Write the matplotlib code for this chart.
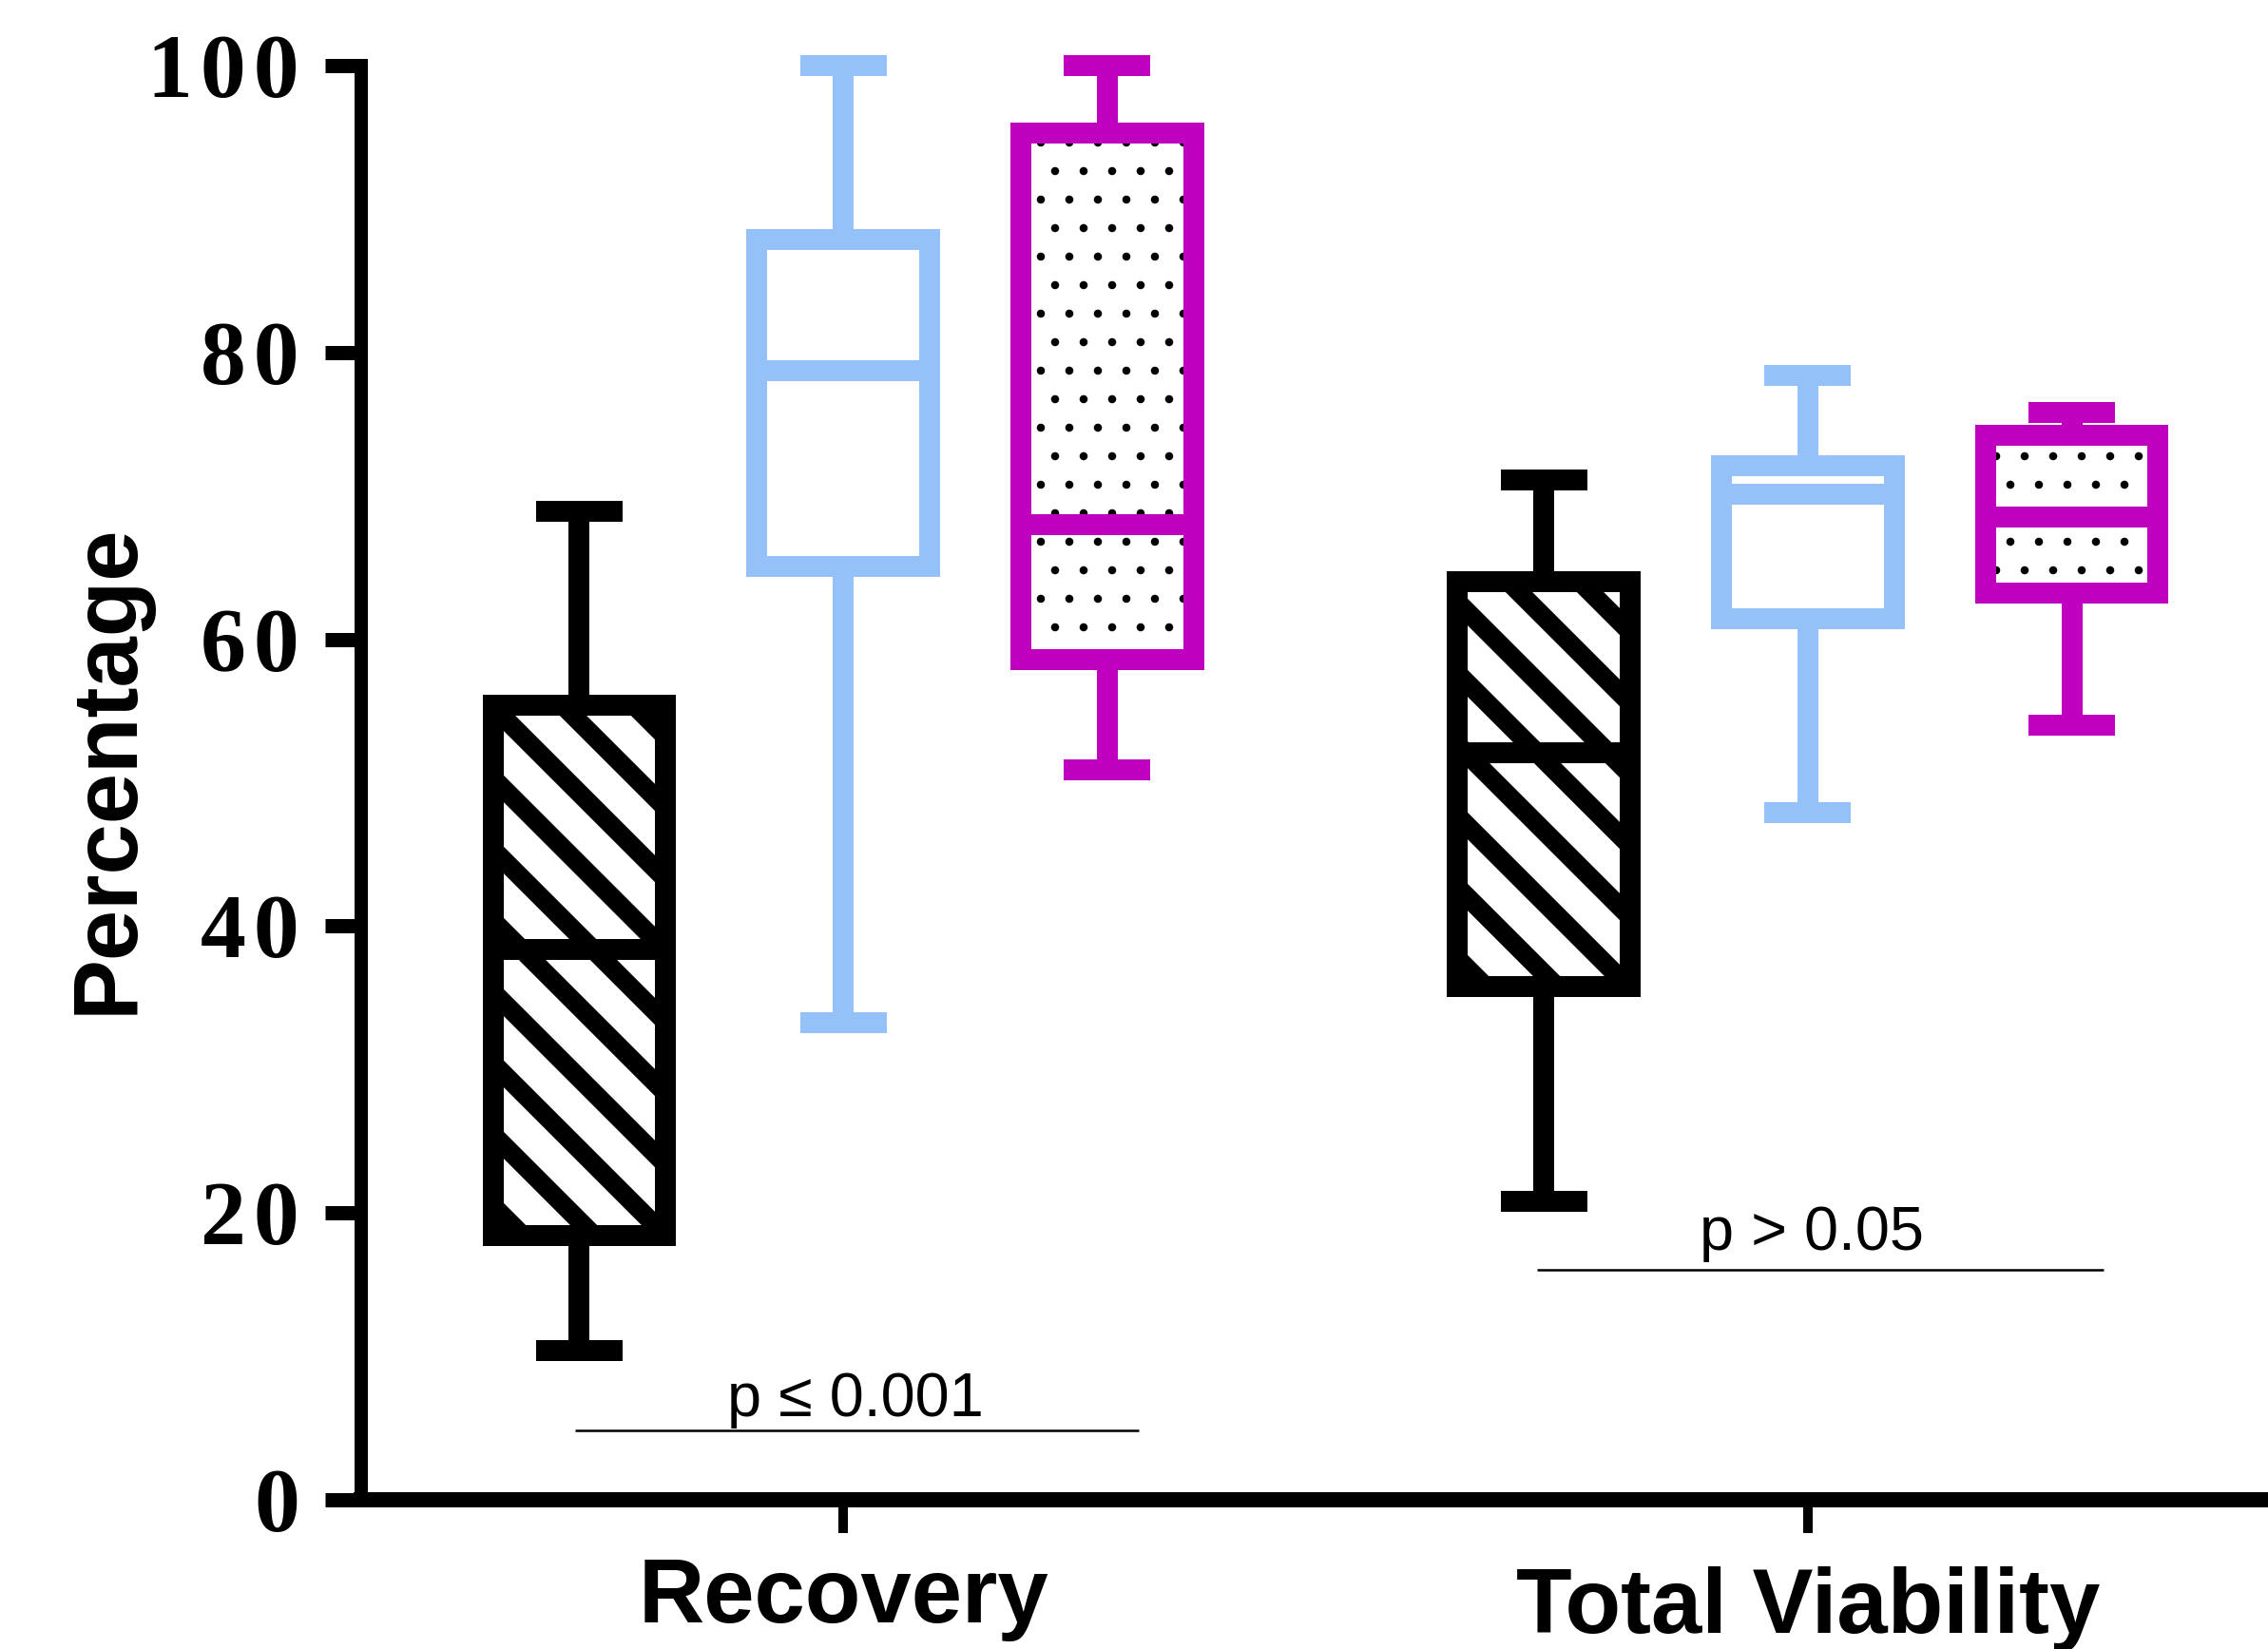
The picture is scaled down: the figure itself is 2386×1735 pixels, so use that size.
import matplotlib
matplotlib.use('Agg')
import matplotlib.pyplot as plt
from matplotlib.transforms import ScaledTranslation

# categories and series
groups = ['Recovery', 'Total Viability']
series_colors = ['#000000', '#94C1F7', '#BF00BF']
series_hatches = ['\\\\\\\\', '', '.....']

# five-number summaries: whislo, q1, med, q3, whishi
black_stats = [(10.4, 18.4, 38.4, 55.4, 68.9), (20.8, 35.8, 52.1, 64.0, 71.1)]
blue_stats = [(33.3, 65.1, 78.7, 87.9, 100.0), (47.9, 61.4, 70.1, 72.1, 78.4)]
magenta_stats = [(50.9, 58.6, 68.0, 95.3, 100.0), (54.0, 63.2, 68.5, 74.2, 75.8)]

yticks = [0, 20, 40, 60, 80, 100]

# p-value annotations
p_labels = ['p \u2264 0.001', 'p > 0.05']
p_text_x = [1.013, 2.004]
p_text_y = [5.85, 17.45]
p_line_x = [(0.7226, 1.306), (1.7196, 2.307)]
p_line_y = [4.85, 16.06]

DPI = 900
def px(p):
    return p * 72.0 / DPI

fig = plt.figure(figsize=(2386 / DPI, 1735 / DPI), dpi=DPI)
ax = fig.add_axes([0.1593, 0.0905, 1 - 0.1593, 0.8697])

lw = px(22)
offsets = [-0.2736, 0.0, 0.2736]
all_stats = [black_stats, blue_stats, magenta_stats]

for i, stats in enumerate(all_stats):
    c = series_colors[i]
    h = series_hatches[i]
    if h.startswith('\\'):
        plt.rcParams['hatch.linewidth'] = px(20)
    else:
        plt.rcParams['hatch.linewidth'] = px(2.5)
    st = []
    for s in stats:
        st.append(dict(whislo=s[0], q1=s[1], med=s[2], q3=s[3], whishi=s[4], fliers=[]))
    pos = [g + offsets[i] for g in (1, 2)]
    bp = ax.bxp(st, positions=pos, widths=0.179, capwidths=0.068,
                patch_artist=True, showfliers=False, manage_ticks=False,
                boxprops=dict(facecolor='white', edgecolor=c, linewidth=lw,
                              hatch=h if h else None, joinstyle='miter'),
                whiskerprops=dict(color=c, linewidth=lw),
                capprops=dict(color=c, linewidth=lw),
                medianprops=dict(color=c, linewidth=lw, solid_capstyle='butt'))
    for b in bp['boxes']:
        if hasattr(b, 'set_hatch_linewidth'):
            b.set_hatch_linewidth(plt.rcParams['hatch.linewidth'])
        if h.startswith('.'):
            b._hatch_color = (0, 0, 0, 1)
    for key in bp:
        for art in bp[key]:
            art.set_clip_on(False)

for lab, tx, ty, (x0, x1), ly in zip(p_labels, p_text_x, p_text_y, p_line_x, p_line_y):
    ax.text(tx, ty, lab, ha='center', va='baseline', fontsize=px(65),
            family=['Liberation Sans', 'DejaVu Sans'])
    ax.plot([x0, x1], [ly, ly], color='black', lw=px(2.5), solid_capstyle='butt')

ax.set_xlim(0.5005, 2.477)
ax.set_ylim(0, 100)

ax.set_yticks(yticks)
ax.set_yticklabels(['\u200a'.join(str(v)) for v in yticks],
                   family=['Liberation Serif', 'DejaVu Serif'],
                   fontweight='bold', fontsize=px(96))
ax.set_xticks([1, 2])
ax.set_xticklabels(groups, family='Liberation Sans', fontweight='bold', fontsize=px(96))

ax.tick_params(axis='y', length=px(38), width=px(15), pad=px(27))
ax.tick_params(axis='x', length=px(35), width=px(10), pad=px(24))

# second category label sits a little lower in the original
lab2 = ax.get_xticklabels()[1]
lab2.set_transform(lab2.get_transform() + ScaledTranslation(0, -px(11) / 72, fig.dpi_scale_trans))

ax.set_ylabel('Percentage', family='Liberation Sans', fontweight='bold',
              fontsize=px(96), va='center')
ax.yaxis.set_label_coords(-0.1326, 0.51)

ax.spines['top'].set_visible(False)
ax.spines['right'].set_visible(False)
ax.spines['left'].set_linewidth(px(14))
ax.spines['bottom'].set_linewidth(px(16))
ax.spines['left'].set_capstyle('projecting')

fig.savefig('out.png', dpi=DPI)
